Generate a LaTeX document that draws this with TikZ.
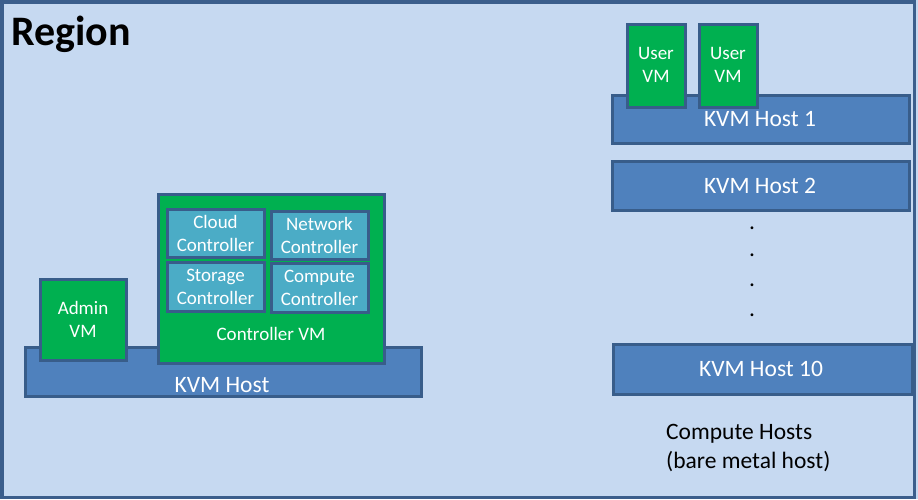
\documentclass[tikz,border=0pt]{standalone}
\usepackage{fontspec}
\setmainfont{Carlito}
\usetikzlibrary{fit}
\definecolor{regionfill}{HTML}{C6D9F1}
\definecolor{regionline}{HTML}{3B5E8C}
\definecolor{hostfill}{HTML}{4F81BD}
\definecolor{hostline}{HTML}{385D8A}
\definecolor{vmfill}{HTML}{00B050}
\definecolor{ctlfill}{HTML}{4BACC6}
\tikzset{
  boxbase/.style={draw=hostline, line width=3pt, inner sep=0pt, text=white, align=center},
  hostbox/.style={boxbase, fill=hostfill},
  vmbox/.style={boxbase, fill=vmfill},
  ctlbox/.style={boxbase, fill=ctlfill},
  vmlbl/.style={text=white, align=center, inner sep=0pt, font=\fontsize{19}{23}\selectfont},
  hostlbl/.style={text=white, inner sep=0pt, font=\fontsize{23.5}{28}\selectfont},
  dotlbl/.style={inner sep=0pt, anchor=base, font=\fontsize{23.5}{28}\selectfont},
}
\begin{document}
\begin{tikzpicture}[x=1pt,y=-1pt]
\useasboundingbox (0,0) rectangle (918,499);
\fill[regionfill] (0,0) rectangle (918,499);
\node[draw=regionline, line width=3.5pt, inner sep=0pt, fit={(1.75,1.75)(914.5,497.25)}] (region) {};
\node[anchor=base west, inner sep=0pt, font=\fontsize{42}{50}\selectfont\bfseries] (regiontitle) at (11,45) {Region};

% left host
\node[hostbox, fit={(25,347)(421,396)}] (kvm) {};
\node[hostlbl] (kvmlbl) at (222,385) {KVM Host};
\node[vmbox, fit={(40,279)(126,360)}] (admin) {};
\node[vmlbl] (adminlbl) at (83,319.5) {Admin\\VM};
\node[vmbox, fit={(158,194)(384,363)}] (ctlvm) {};
\node[vmlbl] (ctlvmlbl) at (271,334) {Controller VM};
\node[ctlbox, fit={(167,209)(264,257)}] (cloud) {};
\node[vmlbl] at (cloud.center) {Cloud\\Controller};
\node[ctlbox, fit={(271,211)(368,259)}] (network) {};
\node[vmlbl] at (network.center) {Network\\Controller};
\node[ctlbox, fit={(167,262)(264,311)}] (storage) {};
\node[vmlbl] at (storage.center) {Storage\\Controller};
\node[ctlbox, fit={(271,263)(368,312)}] (compute) {};
\node[vmlbl] at (compute.center) {Compute\\Controller};

% right hosts
\node[hostbox, fit={(612,95)(909,143)}] (host1) {};
\node[hostlbl] at (760,119.5) {KVM Host 1};
\node[vmbox, fit={(627,24)(685,107)}] (user1) {};
\node[vmlbl] at (656,64.5) {User\\VM};
\node[vmbox, fit={(699,24)(757,107)}] (user2) {};
\node[vmlbl] at (728,64.5) {User\\VM};
\node[hostbox, fit={(612,161)(909,210)}] (host2) {};
\node[hostlbl] at (760,185.5) {KVM Host 2};
\node[dotlbl] (d1) at (752,229) {.};
\node[dotlbl] (d2) at (752,256) {.};
\node[dotlbl] (d3) at (752,286) {.};
\node[dotlbl] (d4) at (752,316) {.};
\node[hostbox, fit={(613,344)(912,394)}] (host10) {};
\node[hostlbl] at (761,369) {KVM Host 10};
\node[anchor=west, align=left, inner sep=0pt, font=\fontsize{23.5}{29}\selectfont] (computehosts) at (666,447.5) {Compute Hosts\\(bare metal host)};
\end{tikzpicture}
\end{document}
